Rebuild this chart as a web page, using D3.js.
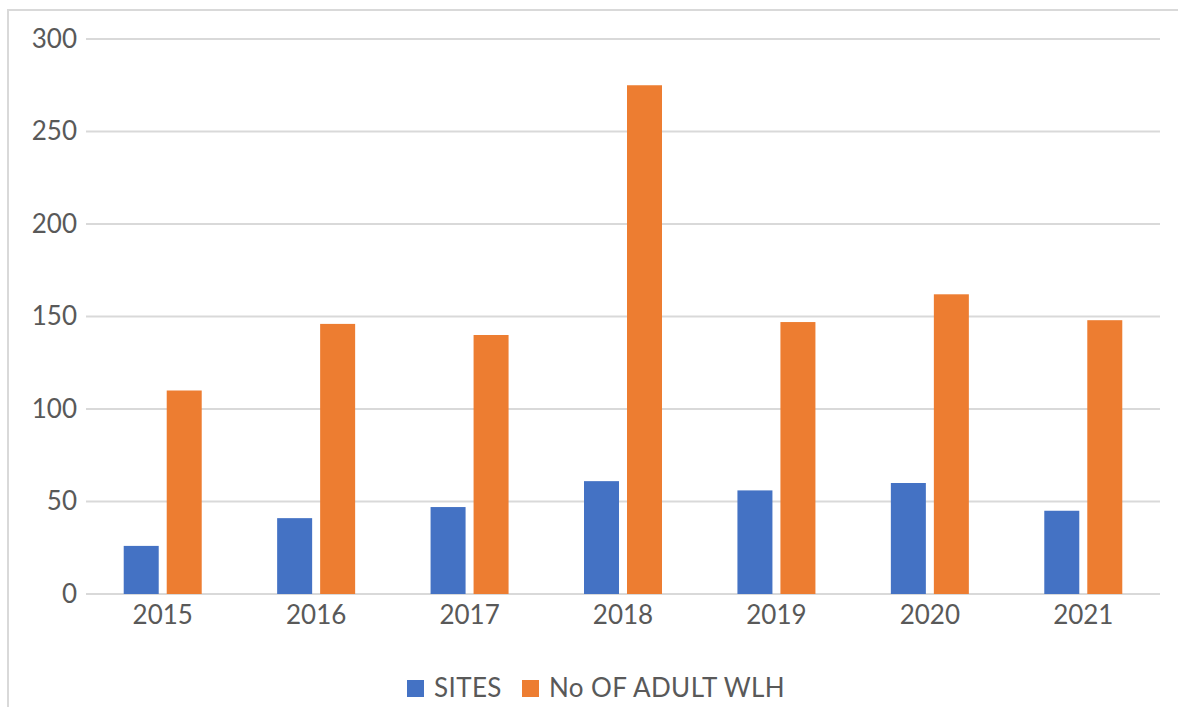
<!DOCTYPE html>
<html>
<head>
<meta charset="utf-8">
<script src="https://cdn.jsdelivr.net/npm/d3@7"></script>
<style>
  body { margin: 0; background: #fff; }
  svg { display: block; font-family: Lato, "Open Sans", sans-serif; }
</style>
</head>
<body>
<div id="chart"></div>
<script>
// chart data
var years = ["2015", "2016", "2017", "2018", "2019", "2020", "2021"];
var sites = [26, 41, 47, 61, 56, 60, 45];
var adults = [110, 146, 140, 275, 147, 162, 148];
var seriesNames = ["SITES", "No OF ADULT WLH"];
var seriesColors = ["#4472c4", "#ed7d31"];
var yTicks = [0, 50, 100, 150, 200, 250, 300];

var width = 1178, height = 707;
var margin = {top: 39, right: 18, bottom: 113, left: 86};

var svg = d3.select("#chart")
  .append("svg")
    .attr("width", width)
    .attr("height", height);

// chart border (only left and top are visible in the picture)
svg.append("rect")
  .attr("x", 8)
  .attr("y", 10)
  .attr("width", width + 20)
  .attr("height", height + 20)
  .attr("fill", "none")
  .attr("stroke", "#d9d9d9")
  .attr("stroke-width", 2);

var g = svg.append("g")
  .attr("transform", "translate(" + margin.left + "," + margin.top + ")");

var w = width - margin.left - margin.right,
    h = height - margin.top - margin.bottom;

var y = d3.scaleLinear().domain([0, 300]).range([h, 0]);

var x0 = d3.scaleBand().domain(years).range([0, w]).padding(0);
var groupW = 78;
var x1 = d3.scaleBand()
  .domain(seriesNames)
  .range([(x0.bandwidth() - groupW) / 2, (x0.bandwidth() + groupW) / 2])
  .paddingInner(0.186);

// gridlines
g.append("g")
  .selectAll("line")
  .data(yTicks)
  .enter()
  .append("line")
    .attr("x1", 0)
    .attr("x2", w)
    .attr("y1", d => y(d))
    .attr("y2", d => y(d))
    .attr("stroke", "#d9d9d9")
    .attr("stroke-width", 2);

// y axis labels
var yAxis = g.append("g")
  .call(d3.axisLeft(y).tickValues(yTicks).tickSize(0).tickPadding(9));
yAxis.select(".domain").remove();
yAxis.selectAll("text")
  .attr("fill", "#595959")
  .style("font-size", "26px")
  .style("font-family", "Lato, sans-serif");

// bars
var data = years.map(function(yr, i) {
  return {year: yr, values: [sites[i], adults[i]]};
});

g.append("g")
  .selectAll("g")
  .data(data)
  .enter()
  .append("g")
    .attr("transform", d => "translate(" + x0(d.year) + ",0)")
  .selectAll("rect")
  .data(d => d.values.map((v, k) => ({name: seriesNames[k], value: v, k: k})))
  .enter()
  .append("rect")
    .attr("x", d => x1(d.name))
    .attr("width", x1.bandwidth())
    .attr("y", d => y(d.value))
    .attr("height", d => h - y(d.value))
    .attr("fill", d => seriesColors[d.k]);

// x axis labels
var xAxis = g.append("g")
  .attr("transform", "translate(0," + h + ")")
  .call(d3.axisBottom(x0).tickSize(0).tickPadding(12));
xAxis.select(".domain").remove();
xAxis.selectAll("text")
  .attr("fill", "#595959")
  .style("font-size", "26px")
  .style("font-family", "Lato, sans-serif");

// legend
var legend = svg.append("g").attr("transform", "translate(407,680)");
var offsets = [0, 115];
seriesNames.forEach(function(name, i) {
  var item = legend.append("g").attr("transform", "translate(" + offsets[i] + ",0)");
  item.append("rect")
    .attr("width", 17)
    .attr("height", 17)
    .attr("fill", seriesColors[i]);
  item.append("text")
    .attr("x", 27)
    .attr("y", 17)
    .attr("fill", "#595959")
    .style("font-size", "26px")
    .style("letter-spacing", "0.4px")
    .text(name);
});
</script>
</body>
</html>
